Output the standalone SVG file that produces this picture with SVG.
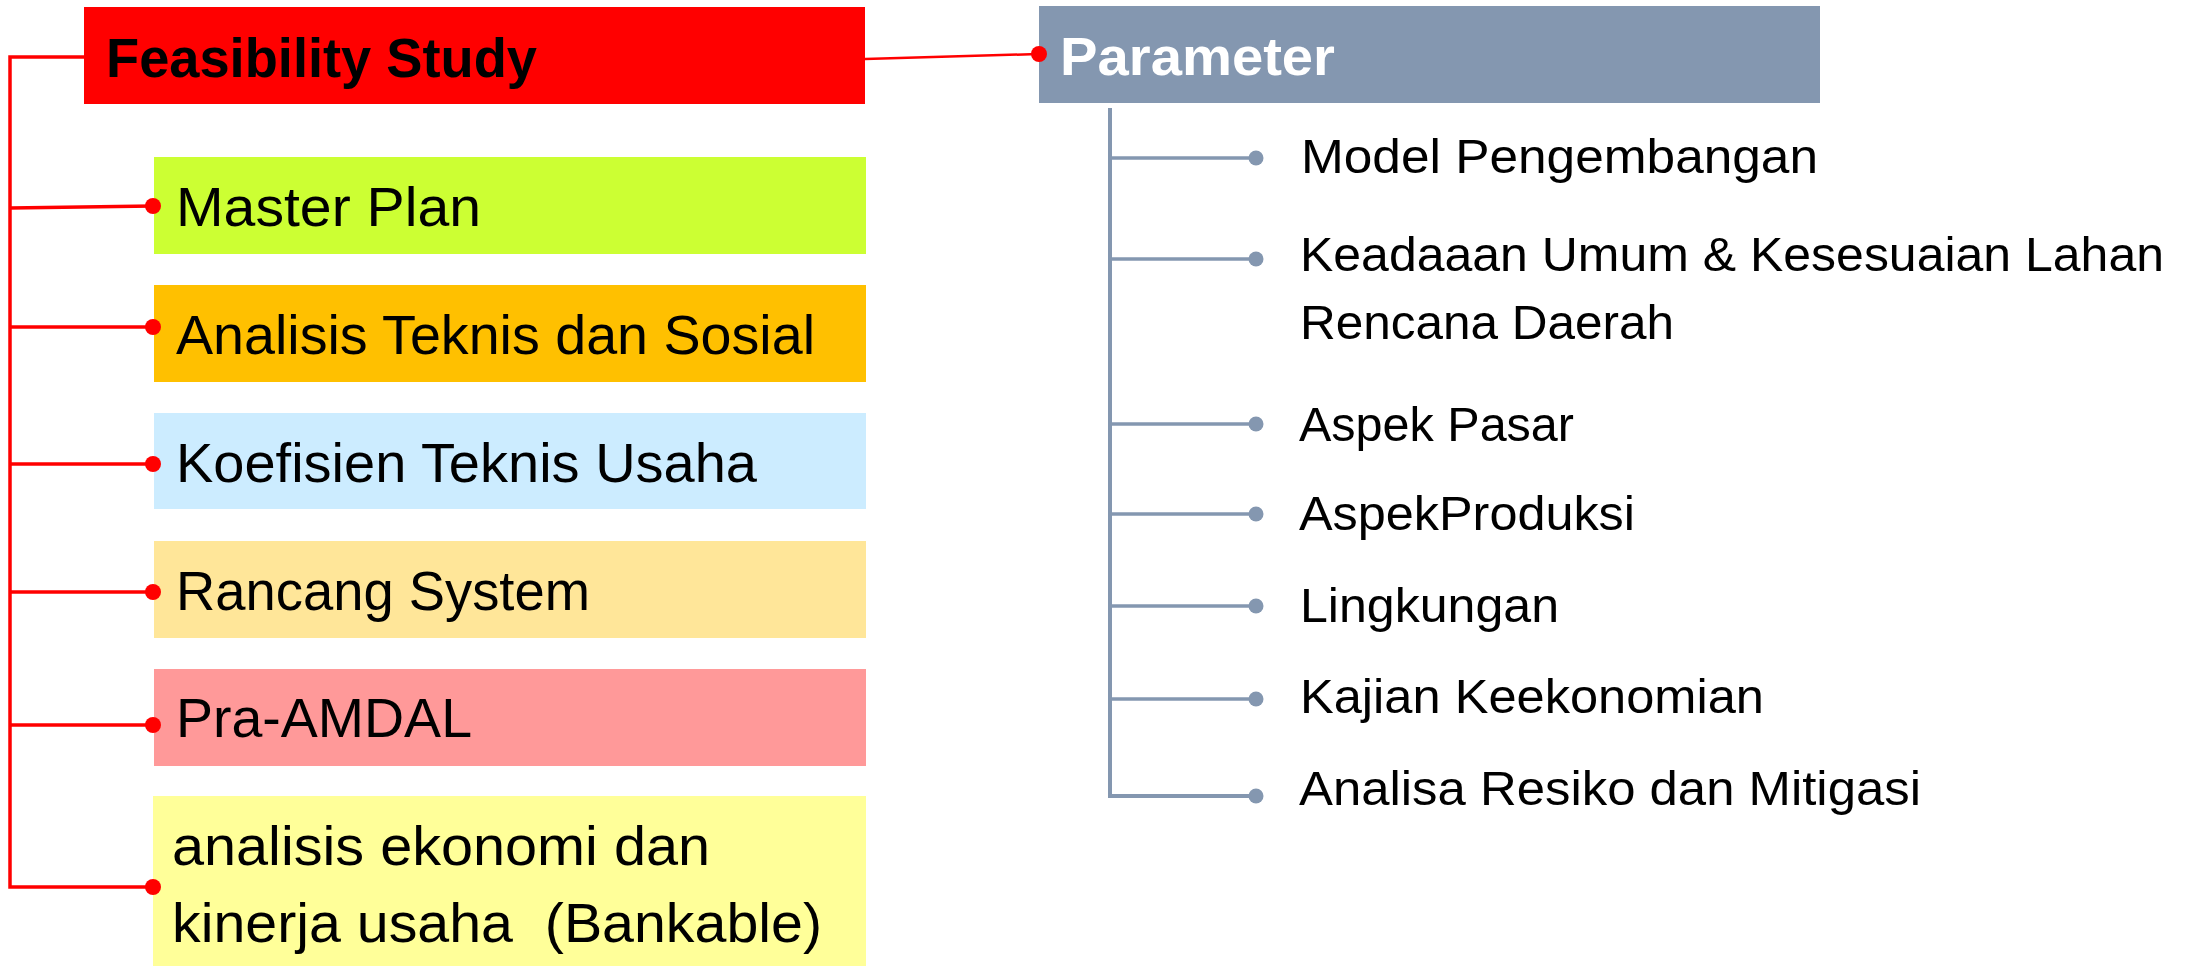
<svg xmlns="http://www.w3.org/2000/svg" width="2187" height="966" viewBox="0 0 2187 966">
<style>
.t{font-family:"Liberation Sans","Noto Sans",sans-serif;fill:#000}
.lt{font-size:55px}
.rt{font-size:49px}
.hd{font-size:56px;font-weight:bold}
.red{stroke:#FF0000;stroke-width:3.5;fill:none}
.gray{stroke:#8497B0;stroke-width:3.5;fill:none}
.rd{fill:#FF0000}
.gd{fill:#8497B0}
</style>
<rect width="2187" height="966" fill="#FFFFFF"/>
<g id="feasibility">
  <rect x="84" y="7" width="781" height="97" fill="#FF0000"/>
  <text class="t hd" x="106" y="77" textLength="431" lengthAdjust="spacingAndGlyphs">Feasibility Study</text>
</g>
<g id="parameter">
  <rect x="1039" y="6" width="781" height="97" fill="#8497B0"/>
  <text class="t hd" x="1060" y="75" style="fill:#FFFFFF;font-size:53px" textLength="275" lengthAdjust="spacingAndGlyphs">Parameter</text>
</g>
<g id="master-plan">
  <rect x="154" y="157" width="712" height="97" fill="#CCFF33"/>
  <text class="t lt" x="176" y="226" textLength="305" lengthAdjust="spacingAndGlyphs">Master Plan</text>
</g>
<g id="analisis-teknis">
  <rect x="154" y="285" width="712" height="97" fill="#FFC000"/>
  <text class="t lt" x="176" y="354" textLength="639" lengthAdjust="spacingAndGlyphs">Analisis Teknis dan Sosial</text>
</g>
<g id="koefisien">
  <rect x="154" y="413" width="712" height="96" fill="#CCECFF"/>
  <text class="t lt" x="176" y="482" textLength="581" lengthAdjust="spacingAndGlyphs">Koefisien Teknis Usaha</text>
</g>
<g id="rancang">
  <rect x="154" y="541" width="712" height="97" fill="#FFE699"/>
  <text class="t lt" x="176" y="610" textLength="414" lengthAdjust="spacingAndGlyphs">Rancang System</text>
</g>
<g id="pra-amdal">
  <rect x="154" y="669" width="712" height="97" fill="#FF9999"/>
  <text class="t lt" x="176" y="737" textLength="296" lengthAdjust="spacingAndGlyphs">Pra-AMDAL</text>
</g>
<g id="analisis-ekonomi">
  <rect x="153" y="796" width="713" height="170" fill="#FFFF99"/>
  <text class="t lt" x="172" y="865" textLength="538" lengthAdjust="spacingAndGlyphs">analisis ekonomi dan</text>
  <text class="t lt" x="172" y="942" style="white-space:pre" textLength="650" lengthAdjust="spacingAndGlyphs">kinerja usaha  (Bankable)</text>
</g>
<g id="model">
  <text class="t rt" x="1301" y="173" textLength="517" lengthAdjust="spacingAndGlyphs">Model Pengembangan</text>
</g>
<g id="keadaan">
  <text class="t rt" x="1300" y="271" textLength="864" lengthAdjust="spacingAndGlyphs">Keadaaan Umum &amp; Kesesuaian Lahan</text>
  <text class="t rt" x="1300" y="339" textLength="374" lengthAdjust="spacingAndGlyphs">Rencana Daerah</text>
</g>
<g id="aspek-pasar">
  <text class="t rt" x="1299" y="441" textLength="275" lengthAdjust="spacingAndGlyphs">Aspek Pasar</text>
</g>
<g id="aspek-produksi">
  <text class="t rt" x="1299" y="530" textLength="336" lengthAdjust="spacingAndGlyphs">AspekProduksi</text>
</g>
<g id="lingkungan">
  <text class="t rt" x="1300" y="622" textLength="259" lengthAdjust="spacingAndGlyphs">Lingkungan</text>
</g>
<g id="kajian">
  <text class="t rt" x="1300" y="713" textLength="464" lengthAdjust="spacingAndGlyphs">Kajian Keekonomian</text>
</g>
<g id="analisa-resiko">
  <text class="t rt" x="1299" y="805" textLength="622" lengthAdjust="spacingAndGlyphs">Analisa Resiko dan Mitigasi</text>
</g>
<g id="connectors">
  <path class="red" d="M84 57 H10 V887 H153"/>
  <path class="red" d="M10 208 L153 206"/>
  <path class="red" d="M10 327 H153"/>
  <path class="red" d="M10 464 H153"/>
  <path class="red" d="M10 592 H153"/>
  <path class="red" d="M10 725 H153"/>
  <path class="red" d="M865 59 L1038 54" style="stroke-width:2.5"/>
  <circle class="rd" cx="153" cy="206" r="8"/>
  <circle class="rd" cx="153" cy="327" r="8"/>
  <circle class="rd" cx="153" cy="464" r="8"/>
  <circle class="rd" cx="153" cy="592" r="8"/>
  <circle class="rd" cx="153" cy="725" r="8"/>
  <circle class="rd" cx="153" cy="887" r="8"/>
  <circle class="rd" cx="1039" cy="54" r="8"/>
  <path class="gray" d="M1110 108 V796 H1256" style="stroke-width:4"/>
  <path class="gray" d="M1110 158 H1256"/>
  <path class="gray" d="M1110 259 H1256"/>
  <path class="gray" d="M1110 424 H1256"/>
  <path class="gray" d="M1110 514 H1256"/>
  <path class="gray" d="M1110 606 H1256"/>
  <path class="gray" d="M1110 699 H1256"/>
  <circle class="gd" cx="1256" cy="158" r="7.5"/>
  <circle class="gd" cx="1256" cy="259" r="7.5"/>
  <circle class="gd" cx="1256" cy="424" r="7.5"/>
  <circle class="gd" cx="1256" cy="514" r="7.5"/>
  <circle class="gd" cx="1256" cy="606" r="7.5"/>
  <circle class="gd" cx="1256" cy="699" r="7.5"/>
  <circle class="gd" cx="1256" cy="796" r="7.5"/>
</g>
</svg>
